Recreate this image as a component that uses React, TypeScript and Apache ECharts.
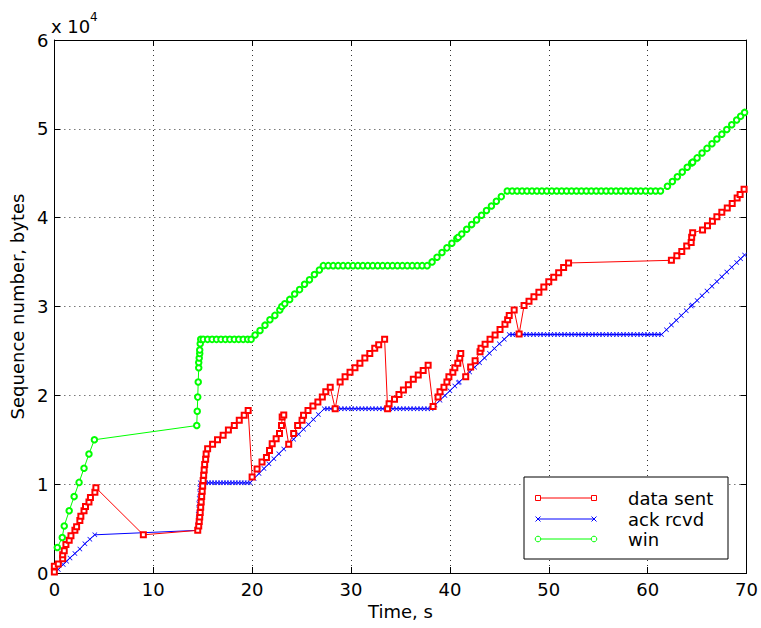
import React, { useEffect, useRef } from 'react';
import * as echarts from 'echarts';

// ---- data (time in s, sequence number in bytes) ----
const dataSent: [number, number][] = [
  [0.0, 100], [0.0, 770], [0.4, 1000], [0.84, 1600], [0.84, 2050], [1.0, 2500], [1.17, 3200], [1.5, 3700],
  [1.68, 4200], [2.08, 4800], [2.25, 5200], [2.58, 5900], [2.68, 6400], [3.0, 7000], [3.15, 7500], [3.5, 8000],
  [3.65, 8500], [4.1, 9100], [4.2, 9600],
  [9.0, 4300],
  [14.5, 4800], [14.6, 5300], [14.65, 5800], [14.7, 6300], [14.75, 6800], [14.8, 7400], [14.85, 8000], [14.9, 8600],
  [14.95, 9200], [15.0, 9800], [15.05, 10400], [15.1, 11000], [15.15, 11600], [15.2, 12200], [15.3, 12800],
  [15.35, 13400], [15.5, 14000],
  [16.0, 14500], [16.5, 15000], [17.07, 15500], [17.6, 16100], [18.2, 16600], [18.7, 17200], [19.2, 17750], [19.6, 18300],
  [20.0, 10800], [20.5, 11700], [21.0, 12500], [21.45, 13000], [21.76, 13800], [22.03, 14550], [22.43, 15100],
  [22.77, 15700], [22.97, 16600], [23.04, 17550], [23.2, 17800],
  [23.7, 14500], [24.2, 15700], [24.6, 16600], [25.05, 17200], [25.2, 17750], [25.65, 18300], [26.15, 18800],
  [26.65, 19250], [27.1, 19800], [27.45, 20400], [27.9, 20900],
  [28.4, 18500], [28.9, 21500], [29.4, 22100], [29.9, 22600], [30.4, 23100], [30.9, 23600], [31.4, 24200],
  [31.9, 24700], [32.4, 25300], [32.8, 25700], [33.4, 26300],
  [33.7, 18500], [33.85, 19050], [34.4, 19550], [34.85, 20100], [35.3, 20600], [35.8, 21200], [36.3, 21800],
  [36.8, 22300], [37.3, 22800], [37.8, 23400],
  [38.3, 18750], [38.8, 19800], [39.0, 20400], [39.4, 20900], [39.7, 21500], [39.9, 22100], [40.3, 22600],
  [40.5, 23100], [40.8, 23600], [41.0, 24200], [41.1, 24700],
  [41.6, 22100], [42.1, 23200], [42.55, 23900], [43.05, 24900], [43.15, 25300], [43.56, 25750], [44.06, 26300],
  [44.57, 26800], [45.07, 27400], [45.57, 28000], [45.84, 28500], [46.0, 29000], [46.5, 29600],
  [47.0, 26900], [47.5, 30100], [48.0, 30600], [48.5, 31100], [49.0, 31600], [49.5, 32200], [50.0, 32800],
  [50.5, 33300], [51.0, 33800], [51.5, 34400], [52.0, 34900],
  [62.4, 35200], [62.95, 35700], [63.45, 36200], [63.95, 36800], [64.4, 37200], [64.45, 37800], [64.55, 38300],
  [65.55, 38600], [66.05, 39100], [66.55, 39600], [67.0, 40100], [67.5, 40600], [68.05, 41100], [68.55, 41600],
  [69.05, 42200], [69.35, 42600], [69.75, 43200],
];

const ackRcvd: [number, number][] = [
  [0.13, 100], [0.4, 400], [0.9, 960], [1.24, 1330], [1.58, 1700], [2.08, 2200], [2.58, 2700], [3.09, 3300],
  [3.59, 3800], [4.09, 4300],
  [14.45, 4800], [14.5, 5400], [14.55, 6000], [14.55, 6600], [14.6, 7200], [14.6, 7800], [14.65, 8400],
  [14.7, 9000], [14.7, 9600], [14.75, 10150],
  [15.0, 10150], [15.3, 10150], [15.6, 10150], [15.9, 10150], [16.2, 10150], [16.5, 10150], [16.8, 10150],
  [17.1, 10150], [17.4, 10150], [17.7, 10150], [18.0, 10150], [18.3, 10150], [18.6, 10150], [18.9, 10150],
  [19.2, 10150], [19.5, 10150], [19.8, 10150],
  [20.2, 10640], [20.7, 11200], [21.2, 11750], [21.7, 12300], [22.2, 12860], [22.7, 13410], [23.2, 13960],
  [23.7, 14520], [23.8, 14630], [24.2, 15070], [24.7, 15620], [25.2, 16180], [25.7, 16730], [26.2, 17290],
  [26.7, 17840], [27.3, 18500],
  [27.6, 18500], [27.95, 18500], [28.3, 18500], [28.65, 18500], [29.0, 18500], [29.35, 18500], [29.7, 18500],
  [30.05, 18500], [30.4, 18500], [30.75, 18500], [31.1, 18500], [31.45, 18500], [31.8, 18500], [32.15, 18500],
  [32.5, 18500], [32.85, 18500], [33.2, 18500], [33.55, 18500], [33.9, 18500], [34.25, 18500], [34.6, 18500],
  [34.95, 18500], [35.3, 18500], [35.65, 18500], [36.0, 18500], [36.35, 18500], [36.7, 18500], [37.05, 18500],
  [37.4, 18500], [37.75, 18500], [38.1, 18500],
  [38.5, 18920], [39.0, 19450], [39.5, 19980], [40.0, 20510], [40.5, 21040], [40.85, 21410], [40.95, 21510],
  [41.5, 22090], [42.0, 22620], [42.5, 23150], [43.0, 23680], [43.5, 24210], [44.0, 24740], [44.5, 25270],
  [45.0, 25800], [45.5, 26320], [46.0, 26850],
  [46.35, 26850], [46.7, 26850], [47.05, 26850], [47.4, 26850], [47.75, 26850], [48.1, 26850], [48.45, 26850],
  [48.8, 26850], [49.15, 26850], [49.5, 26850], [49.85, 26850], [50.2, 26850], [50.55, 26850], [50.9, 26850],
  [51.25, 26850], [51.6, 26850], [51.95, 26850], [52.3, 26850], [52.65, 26850], [53.0, 26850], [53.35, 26850],
  [53.7, 26850], [54.05, 26850], [54.4, 26850], [54.75, 26850], [55.1, 26850], [55.45, 26850], [55.8, 26850],
  [56.15, 26850], [56.5, 26850], [56.85, 26850], [57.2, 26850], [57.55, 26850], [57.9, 26850], [58.25, 26850],
  [58.6, 26850], [58.95, 26850], [59.3, 26850], [59.65, 26850], [60.0, 26850], [60.35, 26850], [60.7, 26850],
  [61.05, 26850], [61.4, 26850],
  [61.9, 27380], [62.4, 27920], [62.9, 28450], [63.4, 28980], [63.9, 29520], [64.4, 30050], [64.5, 30160],
  [65.0, 30680], [65.5, 31220], [66.0, 31750], [66.5, 32280], [67.0, 32810], [67.5, 33350], [68.0, 33880],
  [68.5, 34410], [69.0, 34950], [69.4, 35370], [69.8, 35800],
];

const win: [number, number][] = [
  [0.3, 2870], [0.8, 4000], [1.0, 5300], [1.5, 7000], [2.0, 8600], [2.5, 10200], [3.0, 11800], [3.5, 13400],
  [4.05, 15000],
  [14.4, 16600], [14.45, 18200], [14.5, 19800], [14.55, 21500], [14.6, 23100], [14.6, 23700], [14.65, 24200],
  [14.7, 24700], [14.7, 25100], [14.75, 25800], [14.8, 26300],
  [15.05, 26300], [15.5, 26300], [15.95, 26300], [16.4, 26300], [16.85, 26300], [17.3, 26300], [17.75, 26300],
  [18.2, 26300], [18.65, 26300], [19.1, 26300], [19.55, 26300], [19.9, 26300],
  [20.3, 26800], [20.8, 27300], [21.3, 27900], [21.8, 28500], [22.3, 29000], [22.8, 29600], [23.0, 30000],
  [23.3, 30300], [23.8, 30800], [24.3, 31400], [24.8, 31900], [25.3, 32500], [25.8, 33000], [26.3, 33600],
  [26.8, 34100], [27.2, 34600],
  [27.7, 34600], [28.2, 34600], [28.7, 34600], [29.2, 34600], [29.7, 34600], [30.2, 34600], [30.7, 34600],
  [31.2, 34600], [31.7, 34600], [32.2, 34600], [32.7, 34600], [33.2, 34600], [33.7, 34600], [34.2, 34600],
  [34.7, 34600], [35.2, 34600], [35.7, 34600], [36.2, 34600], [36.7, 34600], [37.2, 34600], [37.7, 34600],
  [38.2, 35020], [38.7, 35550], [39.2, 36070], [39.7, 36600], [40.2, 37120], [40.7, 37650], [40.85, 37800],
  [41.2, 38170], [41.7, 38700], [42.2, 39220], [42.7, 39750], [43.2, 40270], [43.7, 40800], [44.2, 41320],
  [44.7, 41850], [45.2, 42370], [45.8, 43000],
  [46.3, 43000], [46.8, 43000], [47.3, 43000], [47.8, 43000], [48.3, 43000], [48.8, 43000], [49.3, 43000],
  [49.8, 43000], [50.3, 43000], [50.8, 43000], [51.3, 43000], [51.8, 43000], [52.3, 43000], [52.8, 43000],
  [53.3, 43000], [53.8, 43000], [54.3, 43000], [54.8, 43000], [55.3, 43000], [55.8, 43000], [56.3, 43000],
  [56.8, 43000], [57.3, 43000], [57.8, 43000], [58.3, 43000], [58.8, 43000], [59.3, 43000], [59.8, 43000],
  [60.3, 43000], [60.8, 43000], [61.3, 43000],
  [62.0, 43530], [62.5, 44070], [63.0, 44600], [63.5, 45130], [64.0, 45670], [64.45, 46150], [64.55, 46250],
  [65.0, 46730], [65.5, 47270], [66.0, 47800], [66.5, 48330], [67.0, 48860], [67.5, 49400], [68.0, 49930],
  [68.5, 50460], [69.0, 51000], [69.4, 51420], [69.8, 51850],
];

const seriesNames = ['data sent', 'ack rcvd', 'win'];
const seriesColors = ['#ff0000', '#0000ff', '#00ff00'];
const xMin = 0, xMax = 70, xStep = 10;
const yMin = 0, yMax = 60000, yStep = 10000;
const yMultiplier = 10000;
const xTitle = 'Time, s';
const yTitle = 'Sequence number, bytes';
const scaleBase = 'x 10';
const scaleExp = '4';

const FONT = '"DejaVu Sans", "Liberation Sans", Arial, sans-serif';
const X_MARK = 'path://M0,1L1,0L5,4L9,0L10,1L6,5L10,9L9,10L5,6L1,10L0,9L4,5Z';

export default function App() {
  const ref = useRef<HTMLDivElement>(null);
  useEffect(() => {
    const chart = echarts.init(ref.current!, null, { renderer: 'svg' });
    const fs = 18;
    const gridL = 51, gridT = 40, gridW = 696, gridH = 533;
    const axisCommon = {
      type: 'value' as const,
      min: xMin, max: xMax, interval: xStep,
    };
    const lineStyleBlack = { color: '#000', width: 1 };

    // legend geometry
    const lgX = 524, lgY = 477, lgW = 204, lgH = 82;
    const rows = [498, 519, 539];
    const lx1 = 538, lx2 = 594, tx = 628;
    const legendEls: any[] = [
      { type: 'rect', shape: { x: lgX, y: lgY, width: lgW, height: lgH }, style: { fill: '#fff', stroke: '#000', lineWidth: 1 }, z: 100 },
    ];
    seriesNames.forEach((nm, i) => {
      const y = rows[i];
      const c = seriesColors[i];
      legendEls.push({ type: 'line', shape: { x1: lx1, y1: y, x2: lx2, y2: y }, style: { stroke: c, lineWidth: 1 }, z: 101 });
      [lx1, lx2].forEach((px) => {
        if (i === 0) legendEls.push({ type: 'rect', shape: { x: px - 2.5, y: y - 2.5, width: 5, height: 5 }, style: { fill: '#fff', stroke: c, lineWidth: 1 }, z: 102 });
        if (i === 1) {
          legendEls.push({ type: 'line', shape: { x1: px - 2.5, y1: y - 2.5, x2: px + 2.5, y2: y + 2.5 }, style: { stroke: c, lineWidth: 1 }, z: 102 });
          legendEls.push({ type: 'line', shape: { x1: px - 2.5, y1: y + 2.5, x2: px + 2.5, y2: y - 2.5 }, style: { stroke: c, lineWidth: 1 }, z: 102 });
        }
        if (i === 2) legendEls.push({ type: 'circle', shape: { cx: px, cy: y, r: 2.8 }, style: { fill: '#fff', stroke: c, lineWidth: 1 }, z: 102 });
      });
      legendEls.push({ type: 'text', x: tx, y, style: { text: nm, fill: '#000', font: `${fs}px ${FONT}`, verticalAlign: 'middle', align: 'left' }, z: 102 });
    });

    const option: any = {
      animation: false,
      backgroundColor: '#fff',
      grid: { left: gridL, top: gridT, width: gridW, height: gridH, show: false },
      xAxis: [
        {
          ...axisCommon, position: 'bottom',
          axisLine: { show: true, onZero: false, lineStyle: lineStyleBlack },
          axisTick: { show: true, inside: true, length: 6, lineStyle: lineStyleBlack },
          axisLabel: { color: '#000', fontSize: fs, fontFamily: FONT, margin: 7 },
          splitLine: { show: true, lineStyle: { color: '#333', width: 1, type: [1, 4] } },
          name: xTitle, nameLocation: 'middle', nameGap: 23,
          nameTextStyle: { color: '#000', fontSize: fs, fontFamily: FONT },
        },
        {
          ...axisCommon, position: 'top',
          axisLine: { show: true, onZero: false, lineStyle: lineStyleBlack },
          axisTick: { show: true, inside: true, length: 6, lineStyle: lineStyleBlack },
          axisLabel: { show: false },
          splitLine: { show: false },
        },
      ],
      yAxis: [
        {
          type: 'value', min: yMin, max: yMax, interval: yStep, position: 'left',
          axisLine: { show: true, onZero: false, lineStyle: lineStyleBlack },
          axisTick: { show: true, inside: true, length: 6, lineStyle: lineStyleBlack },
          axisLabel: { color: '#000', fontSize: fs, fontFamily: FONT, margin: 6, formatter: (v: number) => String(v / yMultiplier) },
          splitLine: { show: true, lineStyle: { color: '#333', width: 1, type: [1, 4] } },
          name: yTitle, nameLocation: 'middle', nameGap: 24,
          nameTextStyle: { color: '#000', fontSize: fs, fontFamily: FONT },
        },
        {
          type: 'value', min: yMin, max: yMax, interval: yStep, position: 'right',
          axisLine: { show: true, onZero: false, lineStyle: lineStyleBlack },
          axisTick: { show: true, inside: true, length: 6, lineStyle: lineStyleBlack },
          axisLabel: { show: false },
          splitLine: { show: false },
        },
      ],
      series: [
        {
          name: seriesNames[1], type: 'line', data: ackRcvd, xAxisIndex: 0, yAxisIndex: 0,
          symbol: X_MARK, symbolSize: 5, showAllSymbol: true,
          lineStyle: { color: seriesColors[1], width: 1 },
          itemStyle: { color: seriesColors[1] }, z: 3,
        },
        {
          name: seriesNames[0], type: 'line', data: dataSent, xAxisIndex: 0, yAxisIndex: 0,
          symbol: 'emptyRect', symbolSize: 5, showAllSymbol: true,
          lineStyle: { color: seriesColors[0], width: 1 },
          itemStyle: { color: seriesColors[0], borderWidth: 1 }, z: 4,
        },
        {
          name: seriesNames[2], type: 'line', data: win, xAxisIndex: 0, yAxisIndex: 0,
          symbol: 'emptyCircle', symbolSize: 5.5, showAllSymbol: true,
          lineStyle: { color: seriesColors[2], width: 1 },
          itemStyle: { color: seriesColors[2], borderWidth: 1 }, z: 5,
        },
      ],
      graphic: [
        { type: 'text', x: 51, y: 26, style: { text: scaleBase, fill: '#000', font: `${fs}px ${FONT}`, verticalAlign: 'middle' } },
        { type: 'text', x: 90, y: 17, style: { text: scaleExp, fill: '#000', font: `12px ${FONT}`, verticalAlign: 'middle' } },
        ...legendEls,
      ],
    };
    chart.setOption(option);
    return () => chart.dispose();
  }, []);
  return <div ref={ref} style={{ position: 'fixed', left: 0, top: 0, width: 761, height: 628 }} />;
}
